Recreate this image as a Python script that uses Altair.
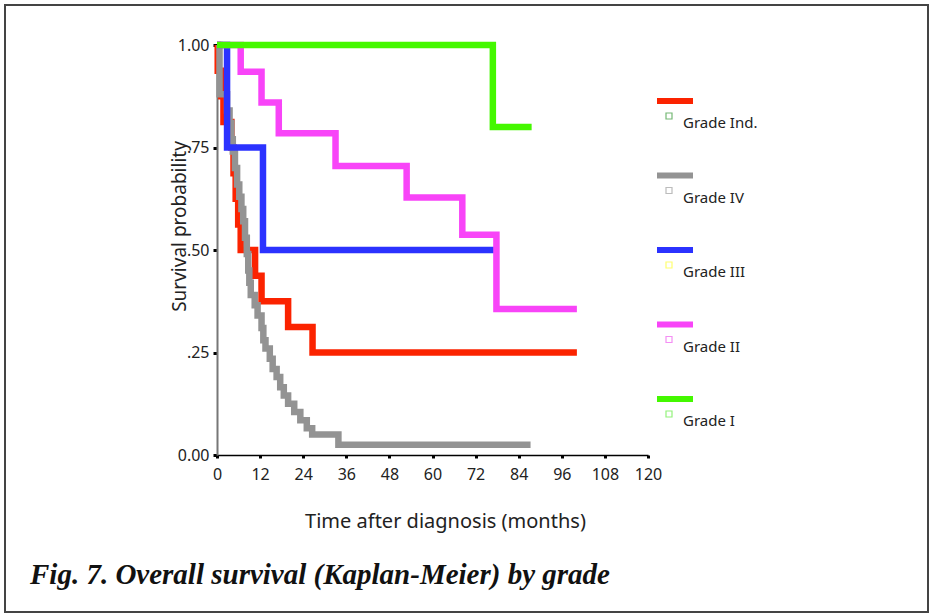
import altair as alt
import pandas as pd

grades = ["Grade Ind.", "Grade IV", "Grade III", "Grade II", "Grade I"]
line_colors = ["#fb2300", "#939393", "#2b32ff", "#f844f8", "#44f800"]
marker_colors = ["#3a9a3a", "#a0a0a0", "#ffff33", "#f060f0", "#66ee44"]

# Kaplan-Meier step points (time in months, survival after the step)
t_ind = [0, 0.2, 1.2, 1.8, 4.0, 4.6, 5.2, 5.9, 6.6, 10.6, 12.4, 19.8, 26.6, 100.2]
s_ind = [1.0, 0.9375, 0.875, 0.8125, 0.75, 0.6875, 0.625, 0.5625, 0.5, 0.4375, 0.375, 0.3125, 0.25, 0.25]

t_iv = [0, 0.7, 2.8, 3.5, 4.0, 4.4, 5.0, 5.6, 6.2, 6.8, 7.3, 7.8, 8.3, 8.7, 9.0, 9.4,
        10.5, 11.3, 12.4, 12.9, 13.5, 14.7, 15.5, 16.6, 17.6, 18.6, 19.8, 21.5, 23.2,
        25.0, 26.5, 33.8, 87.3]
s_iv = [1.0, 0.88, 0.84, 0.81, 0.77, 0.74, 0.70, 0.66, 0.63, 0.60, 0.57, 0.53, 0.49, 0.45, 0.42, 0.39,
        0.365, 0.34, 0.31, 0.28, 0.26, 0.235, 0.21, 0.19, 0.165, 0.145, 0.125, 0.105, 0.085,
        0.065, 0.05, 0.025, 0.025]

t_iii = [0, 2.8, 12.8, 78.5]
s_iii = [1.0, 0.75, 0.5, 0.5]

t_ii = [0, 6.6, 12.4, 17.2, 33.0, 52.8, 68.3, 77.8, 100.2]
s_ii = [1.0, 0.935, 0.86, 0.785, 0.705, 0.628, 0.537, 0.356, 0.356]

t_i = [0, 76.8, 87.6]
s_i = [1.0, 0.80, 0.80]

x_ticks = [0, 12, 24, 36, 48, 60, 72, 84, 96, 108, 120]
y_ticks = [0, 0.25, 0.5, 0.75, 1.0]
caption = "Fig. 7. Overall survival (Kaplan-Meier) by grade"
x_title = "Time after diagnosis (months)"
y_title = "Survival probability"

FONT = "Noto Sans"

series = {
    "Grade Ind.": (t_ind, s_ind),
    "Grade IV": (t_iv, s_iv),
    "Grade III": (t_iii, s_iii),
    "Grade II": (t_ii, s_ii),
    "Grade I": (t_i, s_i),
}
rows = []
for g, (ts, ss) in series.items():
    for t, s in zip(ts, ss):
        rows.append({"grade": g, "t": t, "s": s})
df = pd.DataFrame(rows)
legend_df = pd.DataFrame({"grade": grades, "marker": marker_colors})

x_enc = alt.X(
    "t:Q",
    scale=alt.Scale(domain=[0, 120], nice=False, zero=False),
    axis=alt.Axis(
        orient="bottom", values=x_ticks, title=x_title, grid=False, tickSize=3, tickWidth=3,
        tickColor="#000", domainColor="#000", domainWidth=1.5, labelPadding=8,
        labelFont=FONT, labelFontSize=16, labelFlush=False, labelColor="#222",
        titleFont=FONT, titleFontSize=20, titleFontWeight="normal", titleColor="#222",
        titleX=228, titleY=72, titleBaseline="alphabetic",
    ),
)
y_enc = alt.Y(
    "s:Q",
    scale=alt.Scale(domain=[0, 1], nice=False),
    axis=alt.Axis(
        orient="left", values=y_ticks, title=y_title, grid=False, tickSize=4, tickWidth=3,
        tickColor="#000", domainColor="#777", domainWidth=2, labelPadding=4,
        labelFont=FONT, labelFontSize=16, labelFlush=False, labelColor="#222",
        labelExpr="datum.value == 0 || datum.value == 1 ? format(datum.value, '.2f') : replace(format(datum.value, '.2f'), '0.', '.')",
        titleFont=FONT, titleFontSize=19, titleFontWeight="normal", titleColor="#222",
        titleX=-28, titleY=181,
    ),
)
color_enc = alt.Color("grade:N", scale=alt.Scale(domain=grades, range=line_colors), legend=None)

layers = [
    alt.Chart(df).transform_filter(alt.datum.grade == g)
    .mark_line(interpolate="step-after", strokeWidth=6.5, strokeJoin="miter")
    .encode(x=x_enc, y=y_enc, color=color_enc)
    for g in grades
]

# legend: one row per grade (line sample, censor-mark square, label)
ROW0, ROWSTEP = 56, 74.5
for i, g in enumerate(grades):
    row = alt.Chart(legend_df).transform_filter(alt.datum.grade == g)
    yy = ROW0 + ROWSTEP * i
    layers.append(row.mark_rule(strokeWidth=6).encode(
        x=alt.value(440), x2=alt.value(476), y=alt.value(yy), color=color_enc))
    layers.append(row.mark_point(shape="square", filled=False, size=36, strokeWidth=1.2).encode(
        x=alt.value(452), y=alt.value(yy + 15), stroke=alt.Stroke("marker:N", scale=None)))
    layers.append(row.mark_text(align="left", baseline="middle", font=FONT, fontSize=15, color="#222").encode(
        x=alt.value(466), y=alt.value(yy + 22), text="grade:N"))

one = alt.Data(values=[{"a": 1}])
layers.append(alt.Chart(one).mark_rect(fillOpacity=0, stroke="#444", strokeWidth=2).encode(
    x=alt.value(-212), x2=alt.value(711), y=alt.value(-40), y2=alt.value(567)))
layers.append(alt.Chart(one).mark_text(
    align="left", baseline="alphabetic", font="Liberation Serif", fontStyle="italic",
    fontWeight="bold", fontSize=29, color="#111").encode(
    x=alt.value(-187), y=alt.value(539), text=alt.value(caption)))

chart = alt.layer(*layers).properties(
    width=431, height=410,
    padding={"left": 4, "top": 4, "right": 0, "bottom": 0},
    background="white",
    view=alt.ViewBackground(stroke=None, strokeWidth=0),
).configure(font=FONT).configure_view(stroke=None, strokeWidth=0)

chart.save("out.html", embed_options={"renderer": "svg", "actions": False})
